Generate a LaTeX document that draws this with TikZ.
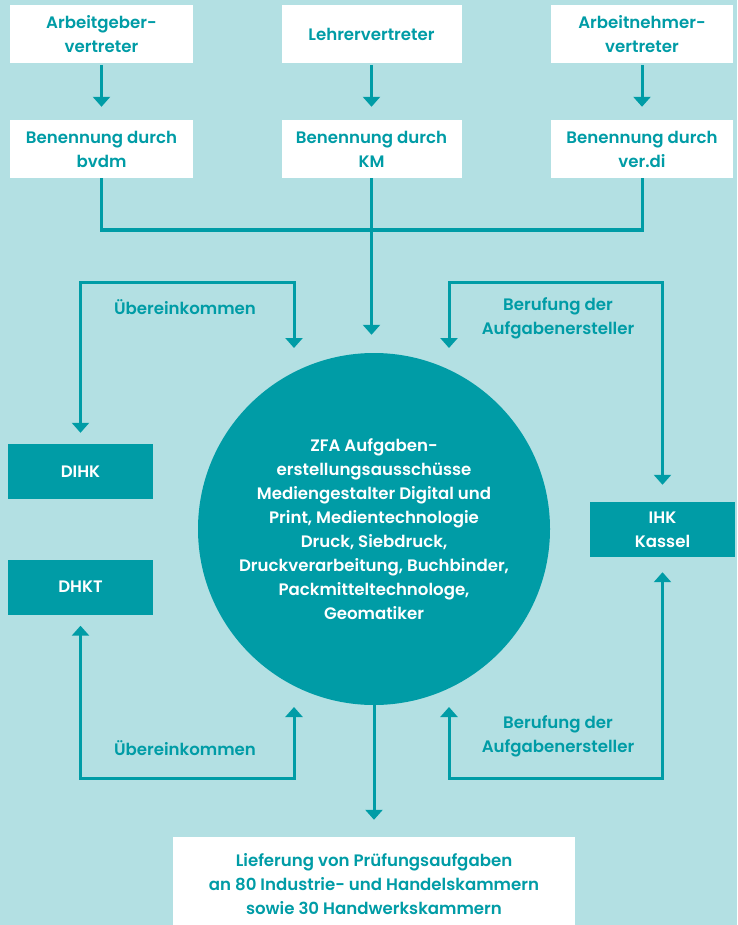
\documentclass[tikz,border=0pt]{standalone}
\usepackage{fontspec}
\setmainfont{Poppins}[BoldFont={Poppins SemiBold}]
\usetikzlibrary{arrows.meta}
\definecolor{bg}{HTML}{B3E0E3}
\definecolor{teal}{HTML}{009CA6}
\newcommand{\fs}{\fontsize{16.6}{24}\selectfont\bfseries}
\tikzset{
  wbox/.style={fill=white, text=teal, inner sep=0pt, align=center, minimum height=58pt, font=\fs},
  tbox/.style={fill=teal, text=white, inner sep=0pt, align=center, minimum width=145pt, minimum height=55pt, font=\fs},
  lbl/.style={text=teal, align=center, inner sep=0pt, font=\fs},
  conn/.style={draw=teal, line width=3pt, arrows={-Triangle[width=17pt,length=10pt]}},
  both/.style={draw=teal, line width=3pt, arrows={Triangle[width=17pt,length=10pt]-Triangle[width=17pt,length=10pt]}},
  plain/.style={draw=teal, line width=3pt},
}
\begin{document}
\begin{tikzpicture}[x=1pt,y=-1pt]
\useasboundingbox (0,0) rectangle (737,925);
\fill[bg] (0,0) rectangle (737,925);
% top row
\node[wbox, minimum width=183pt] (a1) at (101.5,34) {Arbeitgeber-\\vertreter};
\node[wbox, minimum width=180pt] (a2) at (371.5,34) {Lehrervertreter};
\node[wbox, minimum width=182pt] (a3) at (642,34) {Arbeitnehmer-\\vertreter};
\node[wbox, minimum width=183pt] (b1) at (101.5,149) {Benennung durch\\bvdm};
\node[wbox, minimum width=180pt] (b2) at (371.5,149) {Benennung durch\\KM};
\node[wbox, minimum width=182pt] (b3) at (642,149) {Benennung durch\\ver.di};
% circle
\node[circle, fill=teal, text=white, minimum size=352pt, inner sep=0pt, align=center, font=\fs] (zfa) at (374,529)
  {ZFA Aufgaben-\\erstellungsausschüsse\\Mediengestalter Digital und\\Print, Medientechnologie\\Druck, Siebdruck,\\Druckverarbeitung, Buchbinder,\\Packmitteltechnologe,\\Geomatiker};
% side boxes
\node[tbox] (dihk) at (80.5,471.5) {DIHK};
\node[tbox] (dhkt) at (80.5,587) {DHKT};
\node[tbox] (ihk) at (662.5,529.5) {IHK\\Kassel};
% bottom box
\node[wbox, minimum width=402pt, minimum height=94pt] (lief) at (374,884) {Lieferung von Prüfungsaufgaben\\an 80 Industrie- und Handelskammern\\sowie 30 Handwerkskammern};
% coordinates
\coordinate (hub) at (371.5,230);
\coordinate (ulc) at (80.5,282);
\coordinate (ula) at (294,348);
\coordinate (ura) at (449,348);
\coordinate (urc) at (662.5,282);
\coordinate (llc) at (80.5,778);
\coordinate (lla) at (294,707);
\coordinate (lra) at (449,707);
\coordinate (lrc) at (662.5,778);
% connectors
\draw[conn, shorten <=2pt, shorten >=13pt] (a1.south) -- (b1.north);
\draw[conn, shorten <=2pt, shorten >=13pt] (a2.south) -- (b2.north);
\draw[conn, shorten <=2pt, shorten >=13pt] (a3.south) -- (b3.north);
\draw[plain] (b1.south) |- (hub) -| (b3.south);
\draw[conn, shorten >=18pt] (b2.south) -- (b2.south |- zfa.north);
\draw[both, shorten <=11pt] (dihk.north) -- (ulc) -| (ula);
\draw[both, shorten >=17pt] (ura) |- (urc) -- (ihk.north);
\draw[both, shorten <=11pt] (dhkt.south) -- (llc) -| (lla);
\draw[both, shorten >=15pt] (lra) |- (lrc) -- (ihk.south);
\draw[conn, shorten >=17pt] (zfa.south) -- (lief.north);
% labels
\node[lbl] (l1) at (185,307) {Übereinkommen};
\node[lbl] (l2) at (558,318) {Berufung der\\Aufgabenersteller};
\node[lbl] (l3) at (185,748) {Übereinkommen};
\node[lbl] (l4) at (558,736) {Berufung der\\Aufgabenersteller};
\end{tikzpicture}
\end{document}
